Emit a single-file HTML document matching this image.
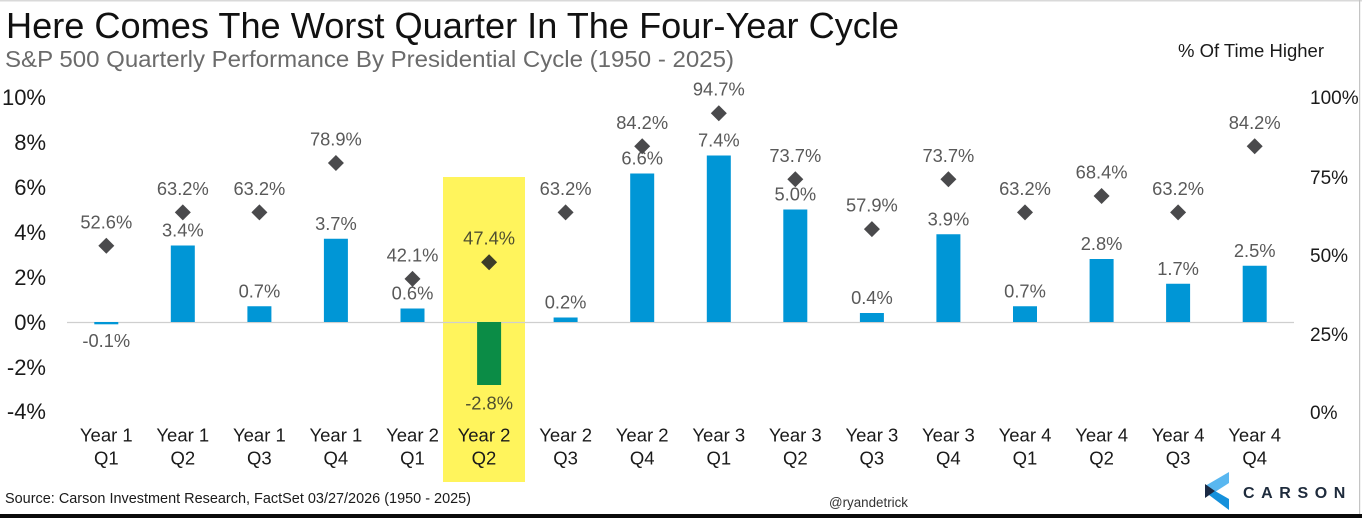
<!DOCTYPE html>
<html><head><meta charset="utf-8"><style>
html,body{margin:0;padding:0;background:#fff;}
svg{display:block;}
text{font-family:"Liberation Sans",Arial,sans-serif;}
</style></head><body>
<svg width="1362" height="518" viewBox="0 0 1362 518" xmlns="http://www.w3.org/2000/svg">
<rect x="0" y="0" width="1362" height="518" fill="#fff"/>
<rect x="0" y="0" width="1362" height="1.5" fill="#d9d9d9"/>
<rect x="1359" y="0" width="1.2" height="514" fill="#c4c4c4"/>
<rect x="0" y="514" width="1362" height="4" fill="#0a0a0a"/>

<text x="6" y="38" font-size="36" fill="#111" textLength="893" lengthAdjust="spacingAndGlyphs">Here Comes The Worst Quarter In The Four-Year Cycle</text>
<text x="5" y="67" font-size="23" fill="#6b6b6b" textLength="729" lengthAdjust="spacingAndGlyphs">S&amp;P 500 Quarterly Performance By Presidential Cycle (1950 - 2025)</text>
<text x="1178" y="57" font-size="18.5" fill="#1a1a1a">% Of Time Higher</text>

<!-- highlight -->
<rect x="443" y="177" width="82" height="305" fill="#fff45c"/>

<!-- left axis -->
<g font-size="22" fill="#1a1a1a" text-anchor="end">
<text x="46" y="105">10%</text>
<text x="46" y="150">8%</text>
<text x="46" y="195">6%</text>
<text x="46" y="240">4%</text>
<text x="46" y="285">2%</text>
<text x="46" y="330">0%</text>
<text x="46" y="375">-2%</text>
<text x="46" y="419">-4%</text>
</g>
<!-- right axis -->
<g font-size="19" fill="#1a1a1a">
<text x="1310" y="104">100%</text>
<text x="1310" y="184">75%</text>
<text x="1310" y="262">50%</text>
<text x="1310" y="341">25%</text>
<text x="1310" y="419">0%</text>
</g>

<line x1="67" y1="322.5" x2="1294" y2="322.5" stroke="#cfcfcf" stroke-width="1.2"/>

<!-- bars -->
<g fill="#0096d6">
<rect x="94.3" y="322" width="24" height="2.3"/>
<rect x="170.8" y="245.5" width="24" height="76.5"/>
<rect x="247.4" y="306.25" width="24" height="15.75"/>
<rect x="323.9" y="238.75" width="24" height="83.25"/>
<rect x="400.5" y="308.5" width="24" height="13.5"/>
<rect x="553.6" y="317.5" width="24" height="4.5"/>
<rect x="630.2" y="173.5" width="24" height="148.5"/>
<rect x="706.8" y="155.5" width="24" height="166.5"/>
<rect x="783.3" y="209.5" width="24" height="112.5"/>
<rect x="859.9" y="313" width="24" height="9"/>
<rect x="936.4" y="234.25" width="24" height="87.75"/>
<rect x="1013" y="306.25" width="24" height="15.75"/>
<rect x="1089.6" y="259" width="24" height="63"/>
<rect x="1166.1" y="283.75" width="24" height="38.25"/>
<rect x="1242.7" y="265.75" width="24" height="56.25"/>
</g>
<rect x="477.1" y="322" width="24" height="63" fill="#0b8c46"/>

<!-- bar labels -->
<g font-size="18.3" fill="#595959" text-anchor="middle">
<text x="106.3" y="347">-0.1%</text>
<text x="182.8" y="236.5">3.4%</text>
<text x="259.4" y="297.3">0.7%</text>
<text x="335.9" y="229.8">3.7%</text>
<text x="412.5" y="299.5">0.6%</text>
<text x="489.1" y="409.5" fill="#4f4f30">-2.8%</text>
<text x="565.6" y="308.5">0.2%</text>
<text x="642.2" y="164.5">6.6%</text>
<text x="718.8" y="146.5">7.4%</text>
<text x="795.3" y="200.5">5.0%</text>
<text x="871.9" y="304">0.4%</text>
<text x="948.4" y="225.3">3.9%</text>
<text x="1025" y="297.3">0.7%</text>
<text x="1101.6" y="250">2.8%</text>
<text x="1178.1" y="274.8">1.7%</text>
<text x="1254.7" y="256.8">2.5%</text>
</g>

<!-- pct labels -->
<g font-size="18.3" fill="#595959" text-anchor="middle">
<text x="106.3" y="228.3">52.6%</text>
<text x="182.8" y="194.9">63.2%</text>
<text x="259.4" y="194.9">63.2%</text>
<text x="335.9" y="145.5">78.9%</text>
<text x="412.5" y="261.4">42.1%</text>
<text x="489.1" y="244.7" fill="#4f4f30">47.4%</text>
<text x="565.6" y="194.9">63.2%</text>
<text x="642.2" y="128.8">84.2%</text>
<text x="718.8" y="95.7">94.7%</text>
<text x="795.3" y="161.8">73.7%</text>
<text x="871.9" y="211.6">57.9%</text>
<text x="948.4" y="161.8">73.7%</text>
<text x="1025" y="194.9">63.2%</text>
<text x="1101.6" y="178.5">68.4%</text>
<text x="1178.1" y="194.9">63.2%</text>
<text x="1254.7" y="128.8">84.2%</text>
</g>

<!-- diamonds -->
<g fill="#4a4a4c">
<path d="M106.3 237.8 l8 8 l-8 8 l-8 -8z"/>
<path d="M182.8 204.4 l8 8 l-8 8 l-8 -8z"/>
<path d="M259.4 204.4 l8 8 l-8 8 l-8 -8z"/>
<path d="M335.9 155 l8 8 l-8 8 l-8 -8z"/>
<path d="M412.5 270.9 l8 8 l-8 8 l-8 -8z"/>
<path d="M489.1 254.2 l8 8 l-8 8 l-8 -8z" fill="#3d3d28"/>
<path d="M565.6 204.4 l8 8 l-8 8 l-8 -8z"/>
<path d="M642.2 138.3 l8 8 l-8 8 l-8 -8z"/>
<path d="M718.8 105.2 l8 8 l-8 8 l-8 -8z"/>
<path d="M795.3 171.3 l8 8 l-8 8 l-8 -8z"/>
<path d="M871.9 221.1 l8 8 l-8 8 l-8 -8z"/>
<path d="M948.4 171.3 l8 8 l-8 8 l-8 -8z"/>
<path d="M1025 204.4 l8 8 l-8 8 l-8 -8z"/>
<path d="M1101.6 188 l8 8 l-8 8 l-8 -8z"/>
<path d="M1178.1 204.4 l8 8 l-8 8 l-8 -8z"/>
<path d="M1254.7 138.3 l8 8 l-8 8 l-8 -8z"/>
</g>

<!-- category labels -->
<g font-size="18.5" fill="#1a1a1a" text-anchor="middle">
<text x="106.3" y="441.5">Year 1</text><text x="106.3" y="464.5">Q1</text>
<text x="182.8" y="441.5">Year 1</text><text x="182.8" y="464.5">Q2</text>
<text x="259.4" y="441.5">Year 1</text><text x="259.4" y="464.5">Q3</text>
<text x="335.9" y="441.5">Year 1</text><text x="335.9" y="464.5">Q4</text>
<text x="412.5" y="441.5">Year 2</text><text x="412.5" y="464.5">Q1</text>
<text x="484" y="441.5">Year 2</text><text x="484" y="464.5">Q2</text>
<text x="565.6" y="441.5">Year 2</text><text x="565.6" y="464.5">Q3</text>
<text x="642.2" y="441.5">Year 2</text><text x="642.2" y="464.5">Q4</text>
<text x="718.8" y="441.5">Year 3</text><text x="718.8" y="464.5">Q1</text>
<text x="795.3" y="441.5">Year 3</text><text x="795.3" y="464.5">Q2</text>
<text x="871.9" y="441.5">Year 3</text><text x="871.9" y="464.5">Q3</text>
<text x="948.4" y="441.5">Year 3</text><text x="948.4" y="464.5">Q4</text>
<text x="1025" y="441.5">Year 4</text><text x="1025" y="464.5">Q1</text>
<text x="1101.6" y="441.5">Year 4</text><text x="1101.6" y="464.5">Q2</text>
<text x="1178.1" y="441.5">Year 4</text><text x="1178.1" y="464.5">Q3</text>
<text x="1254.7" y="441.5">Year 4</text><text x="1254.7" y="464.5">Q4</text>
</g>

<text x="5" y="503" font-size="14.5" fill="#1a1a1a" textLength="466" lengthAdjust="spacingAndGlyphs">Source: Carson Investment Research, FactSet 03/27/2026 (1950 - 2025)</text>
<text x="829" y="507" font-size="13.5" fill="#333" textLength="79" lengthAdjust="spacingAndGlyphs">@ryandetrick</text>

<!-- Carson logo -->
<polygon points="1229,472 1229,483 1215,492 1205,486" fill="#59b7f0"/>
<polygon points="1205,492 1215,491 1229,499 1229,510" fill="#1590db"/>
<polygon points="1205,484 1215,491 1205,498" fill="#1b2a44"/>
<text x="1243" y="498" font-size="16" font-weight="bold" fill="#1e2b3c" letter-spacing="6.6">CARSON</text>
</svg>
</body></html>
